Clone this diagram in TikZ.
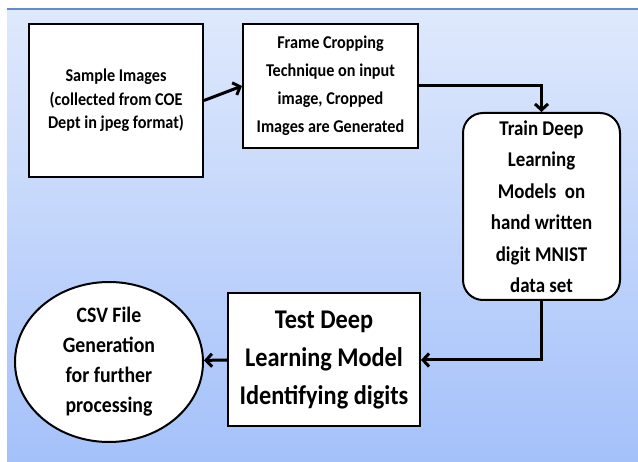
\documentclass[tikz,border=0pt]{standalone}
\usepackage{fontspec}
\setmainfont{Carlito}[FakeStretch=0.9]
\usetikzlibrary{arrows.meta,shapes.geometric}

\definecolor{bgtop}{RGB}{223,233,252}
\definecolor{bgbot}{RGB}{164,193,250}
\definecolor{bgline}{RGB}{95,140,208}

\tikzset{
  stage/.style 2 args={draw=black, line width=2pt, fill=white, inner sep=0pt, align=center,
    font=\bfseries\fontsize{#1}{#2}\selectfont},
  flow/.style={line width=3pt, -{Straight Barb[length=6pt,width=13pt]}},
}

\begin{document}
\begin{tikzpicture}[x=1pt,y=-1pt]
  \useasboundingbox[fill=white] (0,0) rectangle (638,462);
  \shade[top color=bgtop, bottom color=bgbot] (7,9) rectangle (638,462); % background
  \draw[bgline, line width=1.2pt] (7,9) -- (638,9);

  \node[stage={18}{23.5}, minimum width=174, minimum height=153] (sample) at (116,100.5)
    {Sample Images\\(collected from COE\\Dept in jpeg format)};
  \node[stage={18}{28}, minimum width=175, minimum height=124] (crop) at (330.5,86)
    {Frame Cropping\\Technique on input\\image, Cropped\\Images are Generated};
  \node[stage={21}{31.5}, rounded corners=20pt, minimum width=157, minimum height=187] (train) at (541.5,206.5)
    {Train Deep\\Learning\\Models~~on\\hand written\\digit MNIST\\data set};
  \node[stage={27}{38}, minimum width=192, minimum height=133] (test) at (324,360)
    {Test Deep\\Learning Model\\Identifying digits};
  \node[stage={22}{30}, ellipse, minimum width=188, minimum height=160] (csv) at (109,362)
    {CSV File\\Generation\\for further\\processing};

  \draw[flow] (sample.east) -- (crop.west);
  \draw[flow] (crop.east) -| (train.north);
  \draw[flow] (train.south) |- (test.east);
  \draw[flow] (test.west) -- (csv);
\end{tikzpicture}
\end{document}
